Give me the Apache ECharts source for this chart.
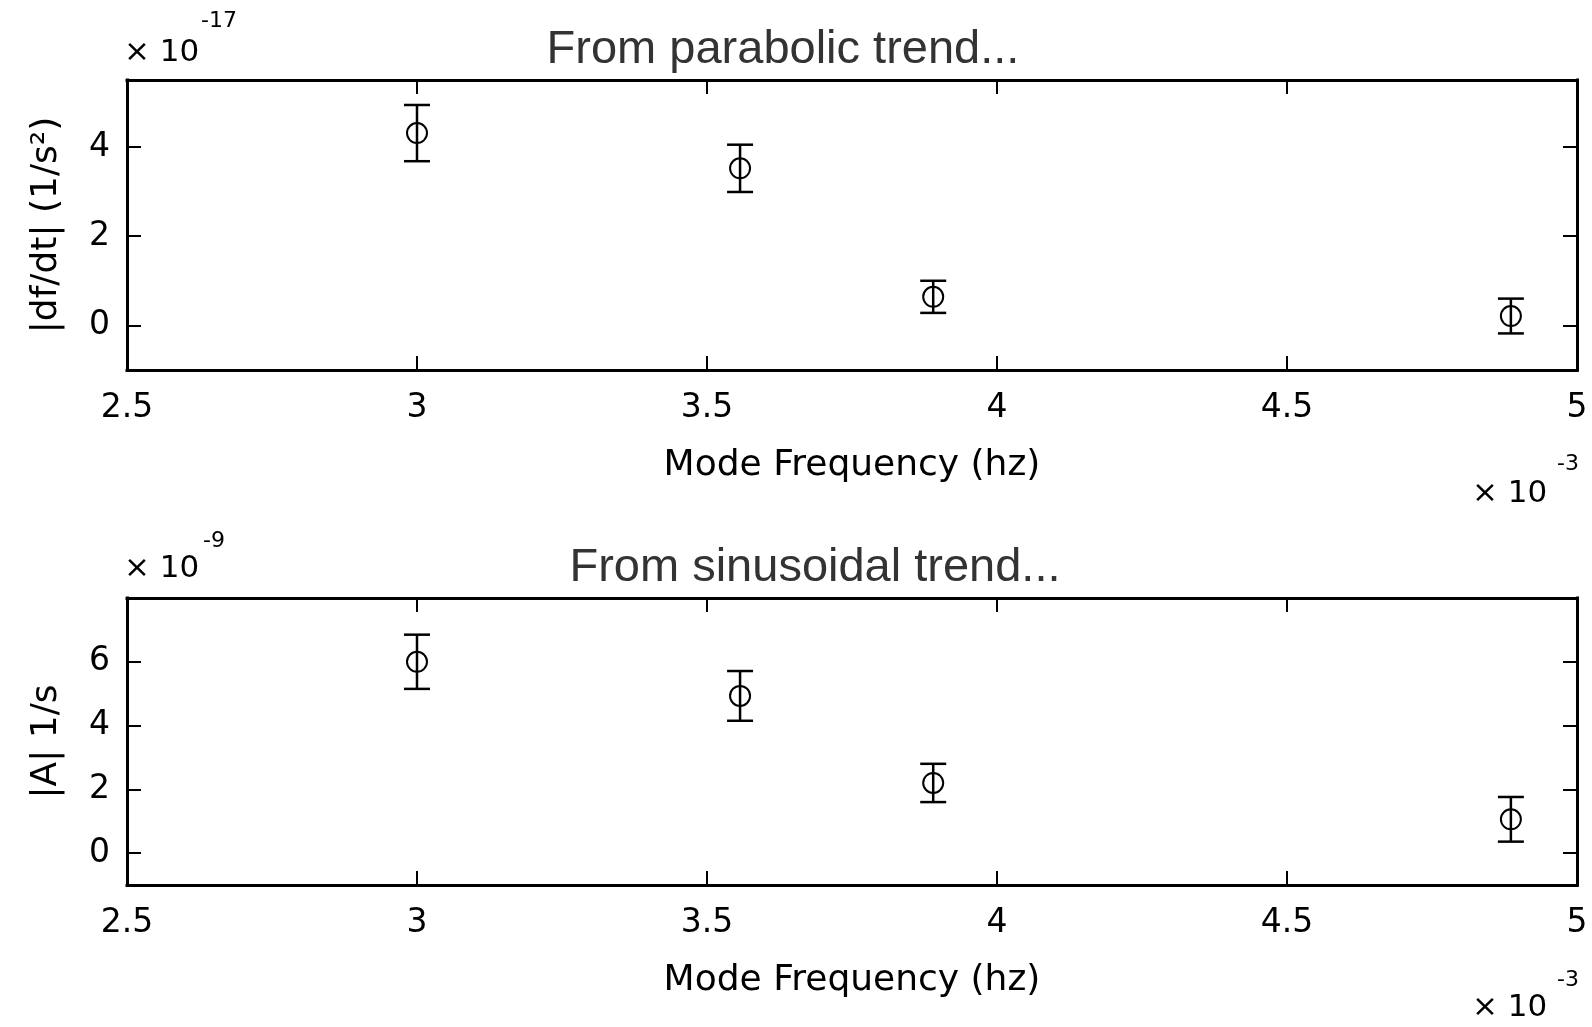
<!DOCTYPE html>
<html><head><meta charset="utf-8">
<script src="https://cdn.jsdelivr.net/npm/echarts@6/dist/echarts.min.js"></script>
<style>html,body{margin:0;padding:0;background:#fff;} #c{width:1592px;height:1027px;}</style>
</head><body><div id="c"></div>
<script>
// Mode frequency in units of 1e-3 Hz
const modeFreq = [3.0, 3.557, 3.89, 4.886];
// |df/dt| in units of 1e-17 1/s^2, with error half-widths
const dfdtVal = [4.31, 3.52, 0.64, 0.21];
const dfdtErr = [0.63, 0.53, 0.36, 0.39];
// |A| in units of 1e-9 1/s, with error half-widths
const ampVal = [6.0, 4.93, 2.2, 1.06];
const ampErr = [0.85, 0.78, 0.6, 0.7];
// tick labels
const xTicks = [2.5, 3, 3.5, 4, 4.5, 5];
const yTicksTop = [0, 2, 4];
const yTicksBottom = [0, 2, 4, 6];
const titles = ['From parabolic trend...', 'From sinusoidal trend...'];
const yNames = ['|df/dt| (1/s\u00B2)', '|A| 1/s'];
const xName = 'Mode Frequency (hz)';
const yExp = ['-17', '-9'];
const xExp = '-3';

const tickFont = "'DejaVu Sans', sans-serif";
const nameFont = "'DejaVu Sans', sans-serif";

function errRender(params, api) {
  const x = api.value(0), y = api.value(1), e = api.value(2);
  const c = api.coord([x, y]);
  const hi = api.coord([x, y + e]);
  const lo = api.coord([x, y - e]);
  const hw = 13;
  const st = {stroke: '#000', lineWidth: 2.5, fill: null};
  return {type: 'group', children: [
    {type: 'line', shape: {x1: c[0], y1: hi[1], x2: c[0], y2: lo[1]}, style: st},
    {type: 'line', shape: {x1: c[0] - hw, y1: hi[1], x2: c[0] + hw, y2: hi[1]}, style: st},
    {type: 'line', shape: {x1: c[0] - hw, y1: lo[1], x2: c[0] + hw, y2: lo[1]}, style: st},
    {type: 'circle', shape: {cx: c[0], cy: c[1], r: 10}, style: {stroke: '#000', lineWidth: 2, fill: 'none'}}
  ]};
}

const axLine = {show: true, onZero: false, lineStyle: {color: '#000', width: 3, cap: 'square'}};
const tick = {show: true, inside: true, length: 14, lineStyle: {color: '#000', width: 2}};

function xMain(gi) {
  return {type: 'value', gridIndex: gi, position: 'bottom', min: 2.5, max: 5, interval: 0.5,
    axisLine: axLine, axisTick: tick, splitLine: {show: false},
    axisLabel: {margin: 22, color: '#000', fontSize: 33, fontFamily: tickFont,
      customValues: xTicks, formatter: v => String(v)},
    name: xName, nameLocation: 'middle', nameGap: 78,
    nameTextStyle: {fontSize: 36, fontFamily: nameFont, color: '#000'}};
}
function xTop(gi) {
  return {type: 'value', gridIndex: gi, position: 'top', min: 2.5, max: 5, interval: 0.5,
    axisLine: axLine, axisTick: tick, axisLabel: {show: false}, splitLine: {show: false}};
}
function yMain(gi, min, max, ticks, name) {
  return {type: 'value', gridIndex: gi, position: 'left', min: min, max: max,
    axisLine: axLine, axisTick: Object.assign({}, tick, {customValues: ticks}), splitLine: {show: false},
    axisLabel: {margin: 17, color: '#000', fontSize: 33, fontFamily: tickFont, customValues: ticks},
    name: name, nameLocation: 'middle', nameGap: 62,
    nameTextStyle: {fontSize: 36, fontFamily: nameFont, color: '#000'}};
}
function yRight(gi, min, max, ticks) {
  return {type: 'value', gridIndex: gi, position: 'right', min: min, max: max,
    axisLine: axLine, axisTick: Object.assign({}, tick, {customValues: ticks}),
    axisLabel: {show: false, customValues: ticks}, splitLine: {show: false}};
}

function expText(x, y, txt, size) {
  return {type: 'text', x: x, y: y, style: {text: txt, fontSize: size, fontFamily: nameFont,
    fill: '#000', align: 'left', verticalAlign: 'middle'}};
}

const chart = echarts.init(document.getElementById('c'), null, {renderer: 'canvas'});
chart.setOption({
  animation: false,
  backgroundColor: '#fff',
  title: [
    {text: titles[0], left: 778, top: 22, textAlign: 'center',
      textStyle: {fontSize: 47, fontWeight: 'normal', color: '#333', fontFamily: "'Liberation Sans', Arial, sans-serif"}},
    {text: titles[1], left: 810, top: 540, textAlign: 'center',
      textStyle: {fontSize: 47, fontWeight: 'normal', color: '#333', fontFamily: "'Liberation Sans', Arial, sans-serif"}}
  ],
  grid: [
    {left: 127, top: 80, width: 1450, height: 290},
    {left: 127, top: 598, width: 1450, height: 287}
  ],
  xAxis: [xMain(0), xTop(0), xMain(1), xTop(1)],
  yAxis: [
    yMain(0, -1, 5.5, yTicksTop, yNames[0]), yRight(0, -1, 5.5, yTicksTop),
    yMain(1, -1, 8, yTicksBottom, yNames[1]), yRight(1, -1, 8, yTicksBottom)
  ],
  graphic: [
    expText(124, 53, '\u00D7 10', 31), expText(201, 21, yExp[0], 22),
    expText(124, 569, '\u00D7 10', 31), expText(203, 541, yExp[1], 22),
    expText(1472, 494, '\u00D7 10', 31), expText(1557, 464, xExp, 22),
    expText(1472, 1008, '\u00D7 10', 31), expText(1557, 980, xExp, 22)
  ],
  series: [
    {type: 'custom', xAxisIndex: 0, yAxisIndex: 0, renderItem: errRender,
      data: modeFreq.map((x, i) => [x, dfdtVal[i], dfdtErr[i]]), silent: true},
    {type: 'custom', xAxisIndex: 2, yAxisIndex: 2, renderItem: errRender,
      data: modeFreq.map((x, i) => [x, ampVal[i], ampErr[i]]), silent: true}
  ]
});
</script></body></html>
